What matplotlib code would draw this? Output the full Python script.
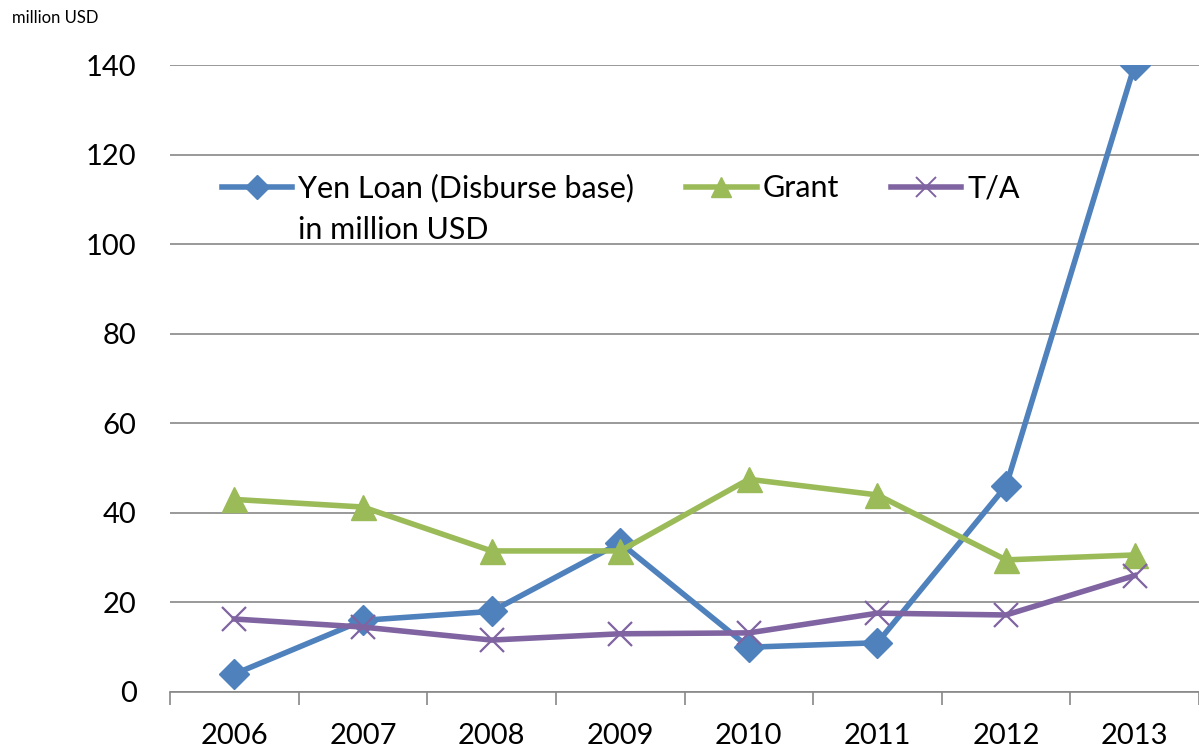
import matplotlib.pyplot as plt
from matplotlib.lines import Line2D

plt.rcParams['font.family'] = ['Lato', 'DejaVu Sans']

years = ['2006', '2007', '2008', '2009', '2010', '2011', '2012', '2013']
yen_loan = [4.0, 16.0, 18.0, 33.3, 10.0, 11.0, 46.0, 140.0]
grant = [43.0, 41.3, 31.5, 31.5, 47.5, 44.0, 29.5, 30.6]
ta = [16.3, 14.5, 11.6, 13.0, 13.2, 17.6, 17.2, 26.0]

blue = '#4F81BD'
green = '#9BBB59'
purple = '#8064A2'

fig = plt.figure(figsize=(11.99, 7.51), dpi=100)
ax = fig.add_axes([170 / 1199, 1 - 692 / 751, 1 - 170 / 1199, (692 - 65) / 751])

x = range(len(years))
ax.plot(x, yen_loan, color=blue, lw=4, marker='D', ms=15, zorder=3)
ax.plot(x, grant, color=green, lw=4, marker='^', ms=18, zorder=3)
ax.plot(x, ta, color=purple, lw=4, marker='x', ms=17, mew=1.6, zorder=3)

ax.set_xlim(-0.5, 7.5)
ax.set_ylim(0, 140)
ax.set_yticks(range(0, 141, 20))
ax.yaxis.grid(True, color='#888888', lw=1.2)
ax.set_axisbelow(True)

# ticks sit between categories, labels at category centres
ax.set_xticks([i + 0.5 for i in range(-1, 8)], minor=False)
ax.set_xticklabels([])
ax.set_xticks(list(x), minor=True)
ax.set_xticklabels(years, minor=True)
ax.tick_params(axis='x', which='major', length=9, width=1.2, color='#888888', direction='out')
ax.tick_params(axis='x', which='minor', length=0, pad=22, labelsize=21)
ax.tick_params(axis='y', length=0, pad=24, labelsize=21)

for s in ['top', 'right', 'left']:
    ax.spines[s].set_visible(False)
ax.spines['bottom'].set_color('#888888')
ax.spines['bottom'].set_linewidth(1.2)

handles = [
    Line2D([], [], color=blue, lw=4, marker='D', ms=12),
    Line2D([], [], color=green, lw=4, marker='^', ms=14),
    Line2D([], [], color=purple, lw=4, marker='x', ms=15, mew=1.4),
]
labels = ['Yen Loan (Disburse base)', 'Grant', 'T/A']
leg = fig.legend(handles, labels, ncol=3, frameon=False, fontsize=22,
                 loc='center left', bbox_to_anchor=(222 / 1199, 1 - 188 / 751),
                 bbox_transform=fig.transFigure, borderpad=0, borderaxespad=0,
                 handlelength=2.3, handletextpad=0.2, columnspacing=1.7)
fig.text(298 / 1199, 1 - 230 / 751, 'in million USD', fontsize=22, va='center', ha='left')

fig.text(12 / 1199, 1 - 18 / 751, 'million USD', fontsize=12, va='center', ha='left')

fig.savefig('out.png', dpi=100)
